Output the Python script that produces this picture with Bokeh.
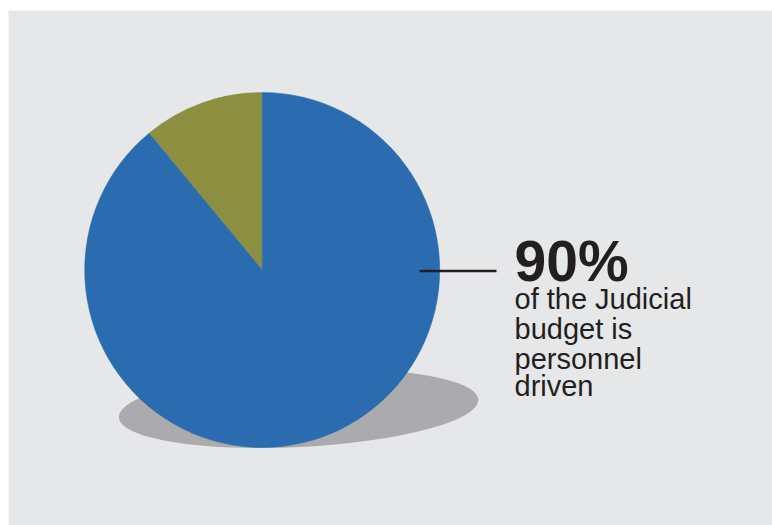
import math
from bokeh.plotting import figure
from bokeh.models import ColumnDataSource, Range1d
from bokeh.core.properties import value
from bokeh.embed import file_html
from bokeh.resources import INLINE

# ---- data ----
categories = ["Personnel", "Other"]
shares = [89, 11]          # percent of budget
colors = ["#2b6cb0", "#8b8f3f"]
headline = "90%"
caption_lines = ["of the Judicial", "budget is", "personnel", "driven"]

W, H = 772, 525
BL, BT = 8, 10
PW, PH = W - BL, H - BT

p = figure(width=W, height=H, output_backend="svg", toolbar_location=None,
           x_range=Range1d(0, PW), y_range=Range1d(0, PH),
           min_border_left=BL, min_border_top=BT, min_border_right=0, min_border_bottom=0)
p.axis.visible = False
p.grid.visible = False
p.outline_line_color = None
p.background_fill_color = "#e6e7e9"
p.border_fill_color = "white"

cx, cy, r = 253.7, 255.5, 177.5

# shadow
p.ellipse(x=[290], y=[117], width=360, height=77, angle=0.05,
          fill_color="#ababad", line_color=None)

# pie wedges: "Other" starts at top and goes anticlockwise, personnel fills the rest
total = float(sum(shares))
order = [1, 0]
start = math.pi / 2
starts, ends, cols, names = [], [], [], []
for i in order:
    a = shares[i] / total * 2 * math.pi
    starts.append(start)
    ends.append(start + a)
    cols.append(colors[i])
    names.append(categories[i])
    start += a
src = ColumnDataSource(dict(start=starts, end=ends, color=cols, name=names))
p.wedge(x=cx, y=cy, radius=r, start_angle="start", end_angle="end",
        fill_color="color", line_color="color", line_width=0.5, source=src)

# leader line
p.segment(x0=[411], y0=[254.5], x1=[488], y1=[254.5], line_color="#231f20", line_width=2.5)

# texts
p.text(x=[506], y=[265], text=[headline], text_font=value("Liberation Sans"),
       text_font_style="bold", text_font_size="57px", text_color="#231f20",
       text_baseline="alphabetic", text_align="left")
ys = [226.7, 196.7, 167.0, 139.3]
p.text(x=[506] * len(caption_lines), y=ys, text=caption_lines,
       text_font=value("Liberation Sans"), text_font_size="29px", text_color="#231f20",
       text_baseline="alphabetic", text_align="left")

open("out.html", "w").write(file_html(p, INLINE))
